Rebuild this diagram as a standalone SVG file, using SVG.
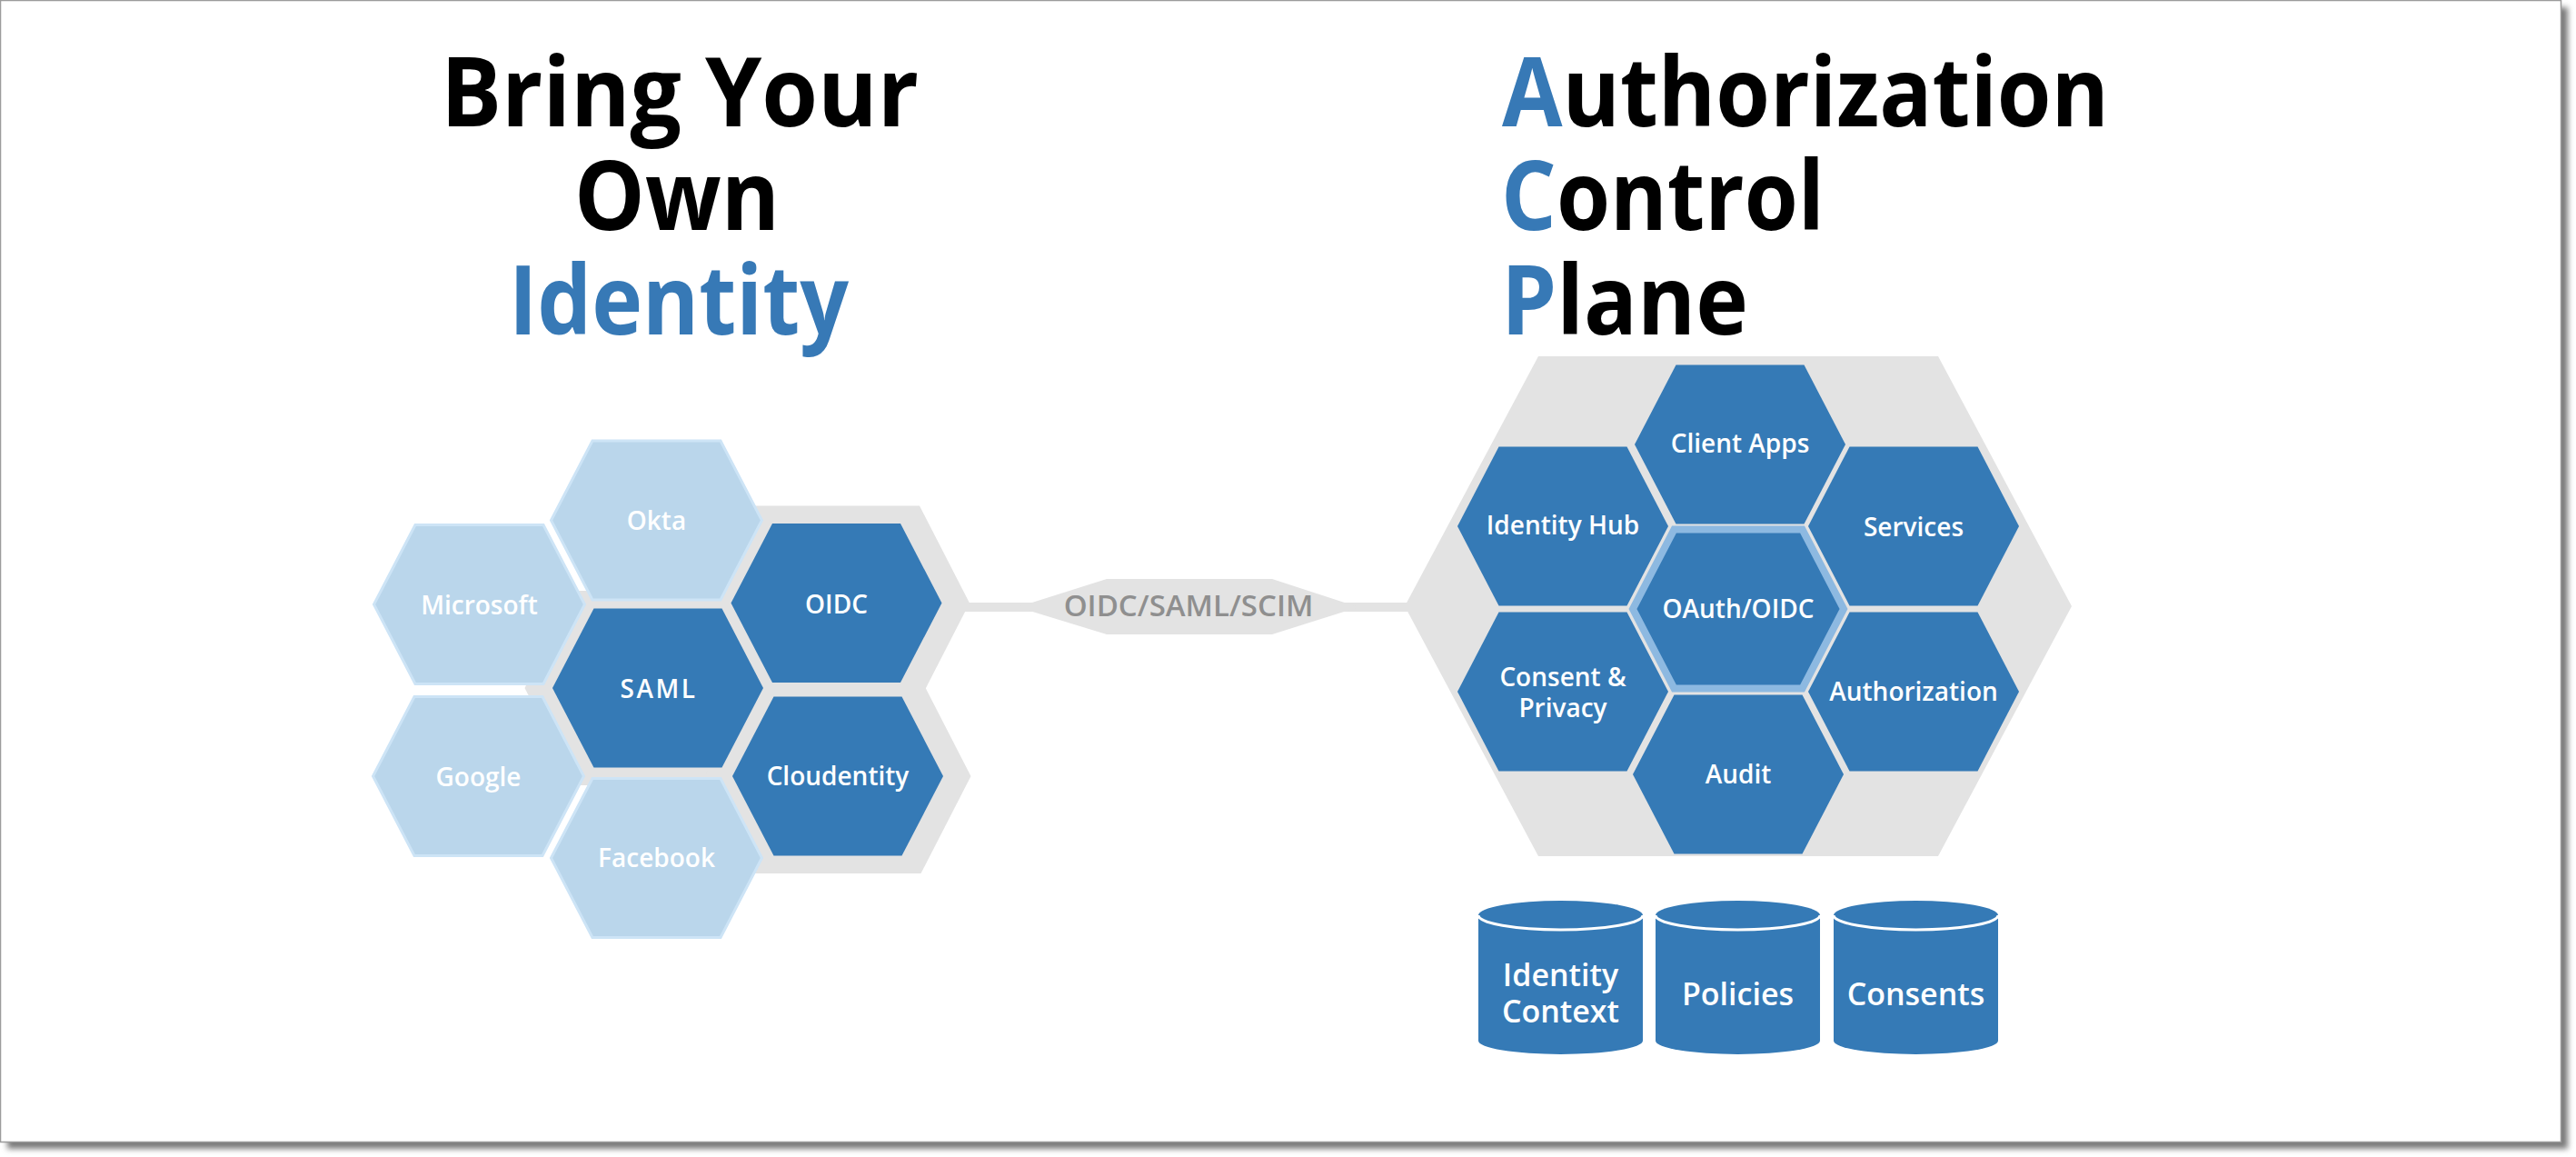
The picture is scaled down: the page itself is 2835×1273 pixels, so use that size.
<svg xmlns="http://www.w3.org/2000/svg" width="2835" height="1273" viewBox="0 0 2835 1273">
<style>
text{font-family:"Open Sans","Noto Sans","Liberation Sans",sans-serif;font-weight:600}
.t text{font-size:106px;font-weight:700}
.blk{fill:#000}
.blu{fill:#3779B6}
.lbl{font-size:28px;fill:#fff;text-anchor:middle}
.cyl{font-size:34px;fill:#fff;text-anchor:middle}
.light{fill:#BAD6EB;stroke:#CDE4F6;stroke-width:3}
.dark{fill:#357AB6}
.gray{fill:#E3E3E3}
.lid{fill:none;stroke:#fff;stroke-width:3}
.ctext{font-size:33px;fill:#8F8F8F;text-anchor:middle}
</style>
<defs>
<path id="hx" d="M-116,0 L-70.5,-87.5 L70.5,-87.5 L116,0 L70.5,87.5 L-70.5,87.5Z"/>
<path id="halo" d="M-146.5,0 L-91.5,-107 L91.5,-107 L146.5,0 L91.5,107 L-91.5,107Z"/>
<filter id="shadow" x="-2%" y="-2%" width="104%" height="104%"><feGaussianBlur stdDeviation="3"/></filter>
</defs>
<g id="frame">
<rect x="8" y="8" width="2818" height="1256" fill="#7a7a7a" filter="url(#shadow)"/>
<rect x="0.5" y="0.5" width="2818" height="1256" fill="#fff" stroke="#9c9c9c" stroke-width="1.5"/>
</g>
<g id="title-left" class="t" text-anchor="middle">
<text x="748" y="139" class="blk" textLength="526" lengthAdjust="spacingAndGlyphs">Bring Your</text>
<text x="745" y="253" class="blk" textLength="226" lengthAdjust="spacingAndGlyphs">Own</text>
<text x="747" y="368" class="blu" textLength="374" lengthAdjust="spacingAndGlyphs">Identity</text>
</g>
<g id="title-right" class="t">
<text x="1653" y="139" class="blk" textLength="668" lengthAdjust="spacingAndGlyphs"><tspan class="blu">A</tspan>uthorization</text>
<text x="1652" y="253" class="blk" textLength="356" lengthAdjust="spacingAndGlyphs"><tspan class="blu">C</tspan>ontrol</text>
<text x="1652" y="368" class="blk" textLength="272" lengthAdjust="spacingAndGlyphs"><tspan class="blu">P</tspan>lane</text>
</g>
<g id="backgrounds">
<use href="#halo" x="724" y="757" class="gray"/>
<use href="#halo" x="920.5" y="663.5" class="gray"/>
<use href="#halo" x="922" y="854" class="gray"/>
<polygon class="gray" points="1546,667 1693,392 2133,392 2280,667 2133,942 1693,942"/>
</g>
<g id="connectors">
<rect class="gray" x="1060" y="663" width="495" height="10"/>
<polygon class="gray" points="1120,668 1218,637 1400,637 1495,668 1400,698 1218,698"/>
<text class="ctext" x="1308" y="678">OIDC/SAML/SCIM</text>
</g>
<g id="node-okta"><use href="#hx" x="722.5" y="572.5" class="light"/><text class="lbl" x="722.5" y="583">Okta</text></g>
<g id="node-microsoft"><use href="#hx" x="527.5" y="665" class="light"/><text class="lbl" x="527.5" y="675.5">Microsoft</text></g>
<g id="node-google"><use href="#hx" x="526.5" y="854" class="light"/><text class="lbl" x="526.5" y="865">Google</text></g>
<g id="node-facebook"><use href="#hx" x="722.5" y="944" class="light"/><text class="lbl" x="722.5" y="954">Facebook</text></g>
<g id="node-saml"><use href="#hx" x="724" y="757" class="dark"/><text class="lbl" x="725" y="767.5" letter-spacing="2.5">SAML</text></g>
<g id="node-oidc"><use href="#hx" x="920.5" y="663.5" class="dark"/><text class="lbl" x="920.5" y="675">OIDC</text></g>
<g id="node-cloudentity"><use href="#hx" x="922" y="854" class="dark"/><text class="lbl" x="922" y="864">Cloudentity</text></g>
<g id="node-client-apps"><use href="#hx" x="1915" y="489" class="dark"/><text class="lbl" x="1915" y="498">Client Apps</text></g>
<g id="node-identity-hub"><use href="#hx" x="1720" y="579" class="dark"/><text class="lbl" x="1720" y="588">Identity Hub</text></g>
<g id="node-services"><use href="#hx" x="2106" y="579" class="dark"/><text class="lbl" x="2106" y="590">Services</text></g>
<g id="node-oauth-oidc"><use href="#hx" x="1913" y="670" class="dark" stroke="#8DB9E1" stroke-width="8"/><text class="lbl" x="1913" y="680">OAuth/OIDC</text></g>
<g id="node-consent-privacy"><use href="#hx" x="1720" y="761" class="dark"/><text class="lbl" x="1720" y="755">Consent &amp;</text><text class="lbl" x="1720" y="789">Privacy</text></g>
<g id="node-authorization"><use href="#hx" x="2106" y="761" class="dark"/><text class="lbl" x="2106" y="771">Authorization</text></g>
<g id="node-audit"><use href="#hx" x="1913" y="852" class="dark"/><text class="lbl" x="1913" y="862">Audit</text></g>
<g id="db-identity-context">
<path class="dark" d="M1627,1007 A90.5 16 0 0 1 1808,1007 L1808,1145 A90.5 15 0 0 1 1627,1145 Z"/>
<path class="lid" d="M1627,1007 A90.5 16 0 0 0 1808,1007"/>
<text class="cyl" x="1717.5" y="1085">Identity</text>
<text class="cyl" x="1717.5" y="1125">Context</text>
</g>
<g id="db-policies">
<path class="dark" d="M1822,1007 A90.5 16 0 0 1 2003,1007 L2003,1145 A90.5 15 0 0 1 1822,1145 Z"/>
<path class="lid" d="M1822,1007 A90.5 16 0 0 0 2003,1007"/>
<text class="cyl" x="1912.5" y="1106">Policies</text>
</g>
<g id="db-consents">
<path class="dark" d="M2018,1007 A90.5 16 0 0 1 2199,1007 L2199,1145 A90.5 15 0 0 1 2018,1145 Z"/>
<path class="lid" d="M2018,1007 A90.5 16 0 0 0 2199,1007"/>
<text class="cyl" x="2108.5" y="1106">Consents</text>
</g>
</svg>
